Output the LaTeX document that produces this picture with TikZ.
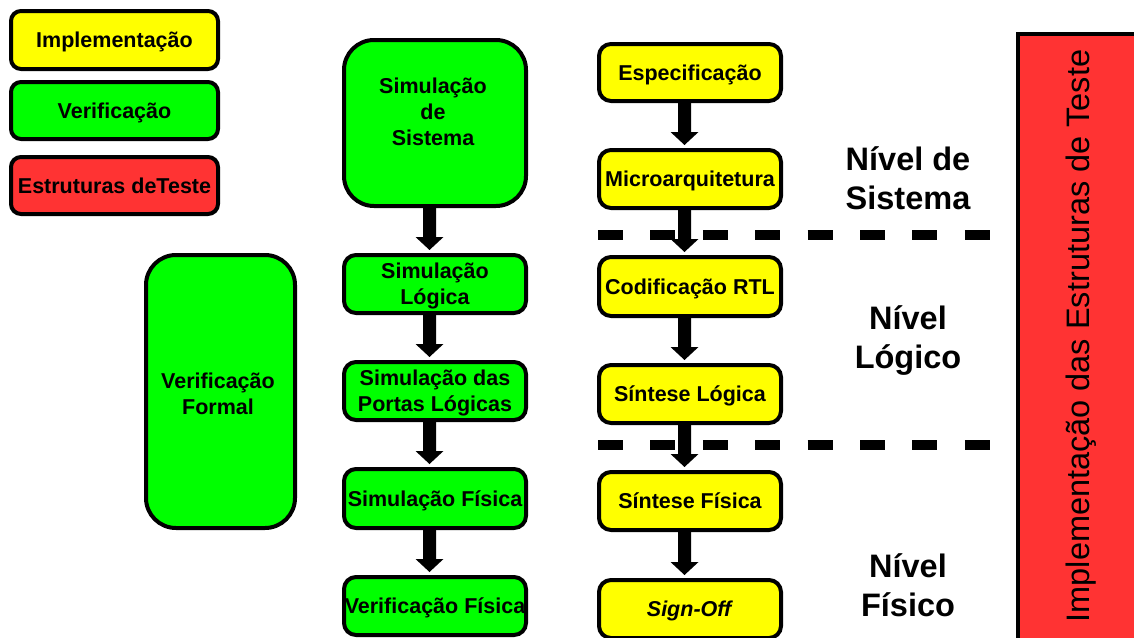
\documentclass[tikz,border=0pt]{standalone}
\usepackage{fontspec}
\setmainfont{Liberation Sans}
\usetikzlibrary{calc}

\definecolor{impl}{RGB}{255,255,0}
\definecolor{verif}{RGB}{0,255,0}
\definecolor{teste}{RGB}{255,51,51}

\newcommand{\boxfont}{\fontsize{21.5}{26}\selectfont\bfseries}
\newcommand{\levelfont}{\fontsize{32.5}{39}\selectfont\bfseries}
\newcommand{\barfont}{\fontsize{32.5}{39}\selectfont}

\tikzset{
  box/.style={rectangle, rounded corners=#1, inner sep=0pt, outer sep=0pt,
    align=center, font=\boxfont, text depth=-2pt},
  box/.default=12pt,
  yelbox/.style={box=#1, fill=impl},
  yelbox/.default=12pt,
  grnbox/.style={box=#1, fill=verif},
  grnbox/.default=12pt,
  redbox/.style={box=#1, fill=teste},
  redbox/.default=12pt,
  rim/.style={draw=black, line width=4pt, rounded corners=#1},
  rim/.default=12pt,
  level/.style={align=center, font=\levelfont, inner sep=0pt},
  separator/.style={line width=10pt, dash pattern=on 25pt off 27.4pt},
}

% border drawn over the fill and the text
\newcommand{\outline}[2][12pt]{\draw[rim=#1] (#2.south west) rectangle (#2.north east);}
% thick block arrow from the bottom of #1 to the top of #2
\newcommand{\blockarrow}[2]{%
  \fill ($(#1.south)+(-12,0)$) -- ($(#2.north)+(-12,-18)$) -- ($(#2.north)+(-19.5,-18)$)
    -- ($(#2.north)+(-5.5,-5)$) -- ($(#2.north)+(8.5,-18)$) -- ($(#2.north)+(1,-18)$)
    -- ($(#1.south)+(1,0)$) -- cycle;}

\begin{document}
\begin{tikzpicture}[x=1pt, y=-1pt]
\clip (0,0) rectangle (1134,637);
\fill[white] (0,0) rectangle (1134,637);

% legend
\node[yelbox=10pt, minimum width=207, minimum height=58] (legimpl) at (114.5,40) {Implementação};
\node[grnbox=10pt, minimum width=207, minimum height=57] (legver) at (114.5,110.5) {Verificação};
\node[redbox=10pt, minimum width=207, minimum height=57] (legtest) at (114.5,185.5) {Estruturas deTeste};

% verification column
\node[grnbox=30pt, minimum width=182, minimum height=166] (simsis) at (435,123) {};
\node[font=\boxfont, align=center, inner sep=0pt] (simsistxt) at (433,112) {Simulação\\de\\ Sistema};
\node[grnbox, minimum width=182, minimum height=58] (simlog) at (435,284) {Simulação\\Lógica};
\node[grnbox, minimum width=182, minimum height=58] (simport) at (435,391) {Simulação das\\Portas Lógicas};
\node[grnbox, minimum width=182, minimum height=59] (simfis) at (435,498.5) {Simulação Física};
\node[grnbox, minimum width=182, minimum height=58] (verfis) at (435,606) {Verificação Física};

\node[grnbox=30pt, minimum width=149, minimum height=273] (formal) at (220.5,391.5) {};
\node[font=\boxfont, align=center, inner sep=0pt] (formaltxt) at (218,393.5) {Verificação\\Formal};

% implementation column
\node[yelbox, minimum width=182, minimum height=57] (espec) at (690,72.5) {Especificação};
\node[yelbox, minimum width=182, minimum height=58] (micro) at (690,179) {Microarquitetura};
\node[yelbox, minimum width=182, minimum height=59] (rtl) at (690,286.5) {Codificação RTL};
\node[yelbox, minimum width=182, minimum height=58] (sintlog) at (690,394) {Síntese Lógica};
\node[yelbox, minimum width=182, minimum height=58] (sintfis) at (690,501) {Síntese Física};
\node[yelbox, minimum width=182, minimum height=58] (signoff) at (690,609) {\textit{Sign-Off}};

% level separators
\draw[separator] (598,235) -- (991,235);
\draw[separator] (598,445) -- (991,445);

% flow arrows
\blockarrow{simsis}{simlog}
\blockarrow{simlog}{simport}
\blockarrow{simport}{simfis}
\blockarrow{simfis}{verfis}
\blockarrow{espec}{micro}
\blockarrow{micro}{rtl}
\blockarrow{rtl}{sintlog}
\blockarrow{sintlog}{sintfis}
\blockarrow{sintfis}{signoff}

% box borders
\outline[10pt]{legimpl}
\outline[10pt]{legver}
\outline[10pt]{legtest}
\outline[30pt]{simsis}
\outline{simlog}
\outline{simport}
\outline{simfis}
\outline{verfis}
\outline[30pt]{formal}
\outline{espec}
\outline{micro}
\outline{rtl}
\outline{sintlog}
\outline{sintfis}
\outline{signoff}

% level names
\node[level] (lvsis) at (908,178) {Nível de\\Sistema};
\node[level] (lvlog) at (908,341) {Nível\\Lógico};
\node[level] (lvfis) at (908,585) {Nível\\Físico};

% test structures bar
\draw[fill=teste, line width=4pt] (1018,34) rectangle (1160,670);
\node[font=\barfont, rotate=90, inner sep=0pt] (bartxt) at (1081,336) {Implementação das Estruturas de Teste};
\end{tikzpicture}
\end{document}
